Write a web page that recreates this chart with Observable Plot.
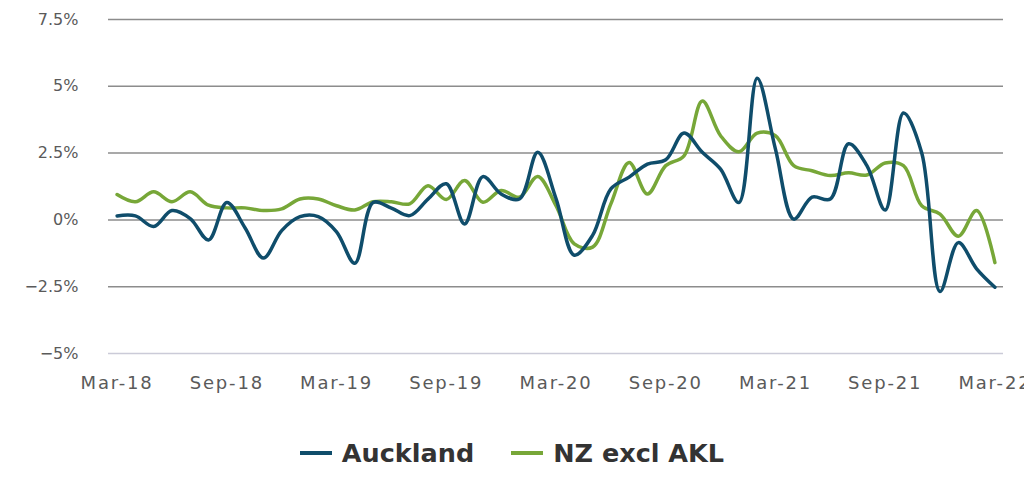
<!DOCTYPE html>
<html>
<head>
<meta charset="utf-8">
<script src="https://cdn.jsdelivr.net/npm/d3@7"></script>
<script src="https://cdn.jsdelivr.net/npm/@observablehq/plot@0.6"></script>
<style>
  html, body { margin: 0; padding: 0; background: #fff; }
  body { width: 1024px; height: 501px; overflow: hidden; font-family: "DejaVu Sans", sans-serif; }
  #chart svg g[aria-label="x-axis tick label"] text { letter-spacing: 1.8px; }
  #legend { display: flex; justify-content: center; align-items: center; gap: 37px; margin-top: 38px; height: 30px; }
  .item { display: flex; align-items: center; gap: 10px; font-weight: 700; font-size: 25.5px; color: #333; }
  .sw { width: 32px; height: 4px; display: inline-block; }
</style>
</head>
<body>
<div id="chart"></div>
<div id="legend"></div>
<script>
const months = [
  "Mar-18","Apr-18","May-18","Jun-18","Jul-18","Aug-18","Sep-18","Oct-18","Nov-18","Dec-18",
  "Jan-19","Feb-19","Mar-19","Apr-19","May-19","Jun-19","Jul-19","Aug-19","Sep-19","Oct-19","Nov-19","Dec-19",
  "Jan-20","Feb-20","Mar-20","Apr-20","May-20","Jun-20","Jul-20","Aug-20","Sep-20","Oct-20","Nov-20","Dec-20",
  "Jan-21","Feb-21","Mar-21","Apr-21","May-21","Jun-21","Jul-21","Aug-21","Sep-21","Oct-21","Nov-21","Dec-21",
  "Jan-22","Feb-22","Mar-22"
];
const auckland = [
  0.15, 0.15, -0.25, 0.35, 0.05, -0.75, 0.65, -0.3, -1.43, -0.4,
  0.12, 0.12, -0.45, -1.62, 0.65, 0.44, 0.16, 0.78, 1.35, -0.15, 1.62, 0.97,
  0.78, 2.53, 0.8, -1.32, -0.58, 1.16, 1.6, 2.09, 2.25, 3.25, 2.53, 1.9,
  0.65, 5.3, 2.65, 0.03, 0.85, 0.78, 2.85, 2.03, 0.37, 4.0, 2.5, -2.68,
  -0.85, -1.83, -2.52
];
const nzExclAkl = [
  0.95, 0.68, 1.05, 0.68, 1.05, 0.55, 0.45, 0.45, 0.35, 0.41,
  0.78, 0.78, 0.53, 0.37, 0.68, 0.68, 0.6, 1.28, 0.76, 1.47, 0.66, 1.1,
  0.85, 1.62, 0.53, -0.9, -1.02, 0.6, 2.15, 0.97, 2.03, 2.4, 4.45, 3.15,
  2.55, 3.25, 3.15, 2.03, 1.84, 1.66, 1.76, 1.68, 2.13, 2.03, 0.53, 0.22,
  -0.61, 0.35, -1.6
];
const seriesNames = ["Auckland", "NZ excl AKL"];
const seriesColors = ["#0f4d6b", "#77a738"];
const xTicks = ["Mar-18","Sep-18","Mar-19","Sep-19","Mar-20","Sep-20","Mar-21","Sep-21","Mar-22"];
const yTicks = [-5, -2.5, 0, 2.5, 5, 7.5];

const rows = months.flatMap((m, i) => [
  {idx: i, month: m, series: seriesNames[0], value: auckland[i]},
  {idx: i, month: m, series: seriesNames[1], value: nzExclAkl[i]}
]);

const fmt = v => (v < 0 ? "\u2212" : "") + Math.abs(v) + "%";
const xTickIdx = xTicks.map(t => months.indexOf(t));

const chart = Plot.plot({
  width: 1024,
  height: 400,
  marginLeft: 108,
  marginRight: 21,
  marginTop: 19,
  marginBottom: 47,
  style: {fontFamily: "DejaVu Sans, sans-serif", fontSize: "16px", color: "#5a5a5a", background: "#fff", overflow: "visible"},
  x: {domain: [-0.47, months.length - 1 + 0.47], label: null},
  y: {domain: [-5, 7.5], label: null},
  color: {domain: seriesNames, range: seriesColors},
  marks: [
    Plot.ruleY(yTicks.filter(d => d !== -5), {stroke: "#8c8c8c", strokeWidth: 1.5}),
    Plot.ruleY([-5], {stroke: "#cbcbd8", strokeWidth: 1.5}),
    Plot.axisY({ticks: yTicks, tickFormat: fmt, tickSize: 0, tickPadding: 30, fontSize: 16, fill: "#5a5a5a", label: null}),
    Plot.axisX({ticks: xTickIdx, tickFormat: i => months[i], tickSize: 0, tickPadding: 23, fontSize: 18, fill: "#5a5a5a", label: null}),
    Plot.line(rows.filter(d => d.series === seriesNames[1]), {x: "idx", y: "value", stroke: "series", strokeWidth: 3.5, curve: "catmull-rom"}),
    Plot.line(rows.filter(d => d.series === seriesNames[0]), {x: "idx", y: "value", stroke: "series", strokeWidth: 3.5, curve: "catmull-rom"})
  ]
});
document.getElementById("chart").appendChild(chart);

const legend = document.getElementById("legend");
seriesNames.forEach((name, i) => {
  const item = document.createElement("div");
  item.className = "item";
  const sw = document.createElement("span");
  sw.className = "sw";
  sw.style.background = seriesColors[i];
  const label = document.createElement("span");
  label.textContent = name;
  item.appendChild(sw);
  item.appendChild(label);
  legend.appendChild(item);
});
</script>
</body>
</html>
